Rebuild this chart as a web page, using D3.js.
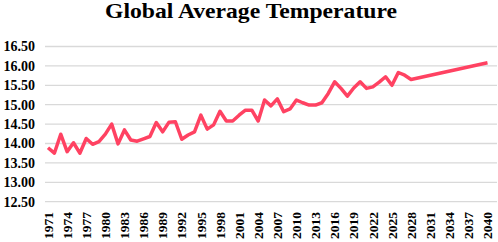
<!DOCTYPE html>
<html>
<head>
<meta charset="utf-8">
<script src="https://cdn.jsdelivr.net/npm/d3@7"></script>
<style>
  body { margin: 0; background: #fff; }
  text { font-family: "Liberation Serif", "Times New Roman", serif; font-weight: bold; }
</style>
</head>
<body>
<div id="chart"></div>
<script>
// Categories: one per year, 1971 to 2040
const years = [
  1971, 1972, 1973, 1974, 1975, 1976, 1977, 1978, 1979, 1980,
  1981, 1982, 1983, 1984, 1985, 1986, 1987, 1988, 1989, 1990,
  1991, 1992, 1993, 1994, 1995, 1996, 1997, 1998, 1999, 2000,
  2001, 2002, 2003, 2004, 2005, 2006, 2007, 2008, 2009, 2010,
  2011, 2012, 2013, 2014, 2015, 2016, 2017, 2018, 2019, 2020,
  2021, 2022, 2023, 2024, 2025, 2026, 2027, 2028, 2029, 2030,
  2031, 2032, 2033, 2034, 2035, 2036, 2037, 2038, 2039, 2040
];

// Temperatures (null = no point, line joins across)
const temps = [
  13.89, 13.75, 14.24, 13.79, 14.02, 13.75, 14.13, 13.98, 14.05, 14.24,
  14.50, 13.99, 14.35, 14.09, 14.06, 14.12, 14.18, 14.54, 14.30, 14.55,
  14.56, 14.11, 14.22, 14.30, 14.73, 14.37, 14.48, 14.83, 14.58, 14.58,
  14.73, 14.86, 14.86, 14.58, 15.12, 14.97, 15.15, 14.82, 14.89, 15.12,
  15.05, 14.99, 14.99, 15.05, 15.29, 15.59, 15.42, 15.22, 15.43, 15.59,
  15.42, 15.46, 15.58, 15.72, 15.50, 15.83, 15.76, 15.65, null, null,
  null, null, null, null, null, null, null, null, null, 16.08
];

// Tick labels
const xTickLabels = [1971, 1974, 1977, 1980, 1983, 1986, 1989, 1992, 1995, 1998,
  2001, 2004, 2007, 2010, 2013, 2016, 2019, 2022, 2025, 2028, 2031, 2034, 2037, 2040];
const yTickLabels = ["12.50", "13.00", "13.50", "14.00", "14.50", "15.00", "15.50", "16.00", "16.50"];

const W = 498, H = 242;
const plot = {left: 45, right: 497, top: 46.5, bottom: 201.7};

const svg = d3.select("#chart")
    .append("svg")
    .attr("width", W)
    .attr("height", H);

// Scales
const x = d3.scalePoint()
    .domain(years)
    .range([48, 487.5]);

const y = d3.scaleLinear()
    .domain([12.5, 16.5])
    .range([plot.bottom, plot.top]);

// Title (stretched a bit wider, like the reference)
svg.append("text")
    .attr("x", 105)
    .attr("y", 18)
    .attr("textLength", 292)
    .attr("lengthAdjust", "spacingAndGlyphs")
    .style("font-size", "21.5px")
    .style("fill", "#000")
    .text("Global Average Temperature");

// Horizontal grid lines + y labels
const yTicks = yTickLabels.map(Number);
svg.selectAll("line.grid")
    .data(yTicks)
    .enter()
    .append("line")
    .attr("class", "grid")
    .attr("x1", plot.left)
    .attr("x2", plot.right)
    .attr("y1", d => y(d))
    .attr("y2", d => y(d))
    .style("stroke", "#d9d9d9")
    .style("stroke-width", 1.3);

svg.selectAll("text.ylab")
    .data(yTickLabels)
    .enter()
    .append("text")
    .attr("class", "ylab")
    .attr("x", 35)
    .attr("y", d => y(+d))
    .attr("dy", "0.35em")
    .attr("text-anchor", "end")
    .style("font-size", "14px")
    .text(d => d);

// X labels (rotated)
svg.selectAll("text.xlab")
    .data(xTickLabels)
    .enter()
    .append("text")
    .attr("class", "xlab")
    .attr("transform", d => `translate(${x(d)},212) rotate(-90)`)
    .attr("dy", "0.35em")
    .attr("text-anchor", "end")
    .style("font-size", "13.5px")
    .text(d => d);

// Line
const pts = years.map((yr, i) => ({year: yr, value: temps[i]}))
    .filter(d => d.value !== null);

svg.append("path")
    .datum(pts)
    .attr("fill", "none")
    .attr("stroke", "#ff4262")
    .attr("stroke-width", 3.5)
    .attr("stroke-linejoin", "round")
    .attr("d", d3.line().x(d => x(d.year)).y(d => y(d.value)));
</script>
</body>
</html>
